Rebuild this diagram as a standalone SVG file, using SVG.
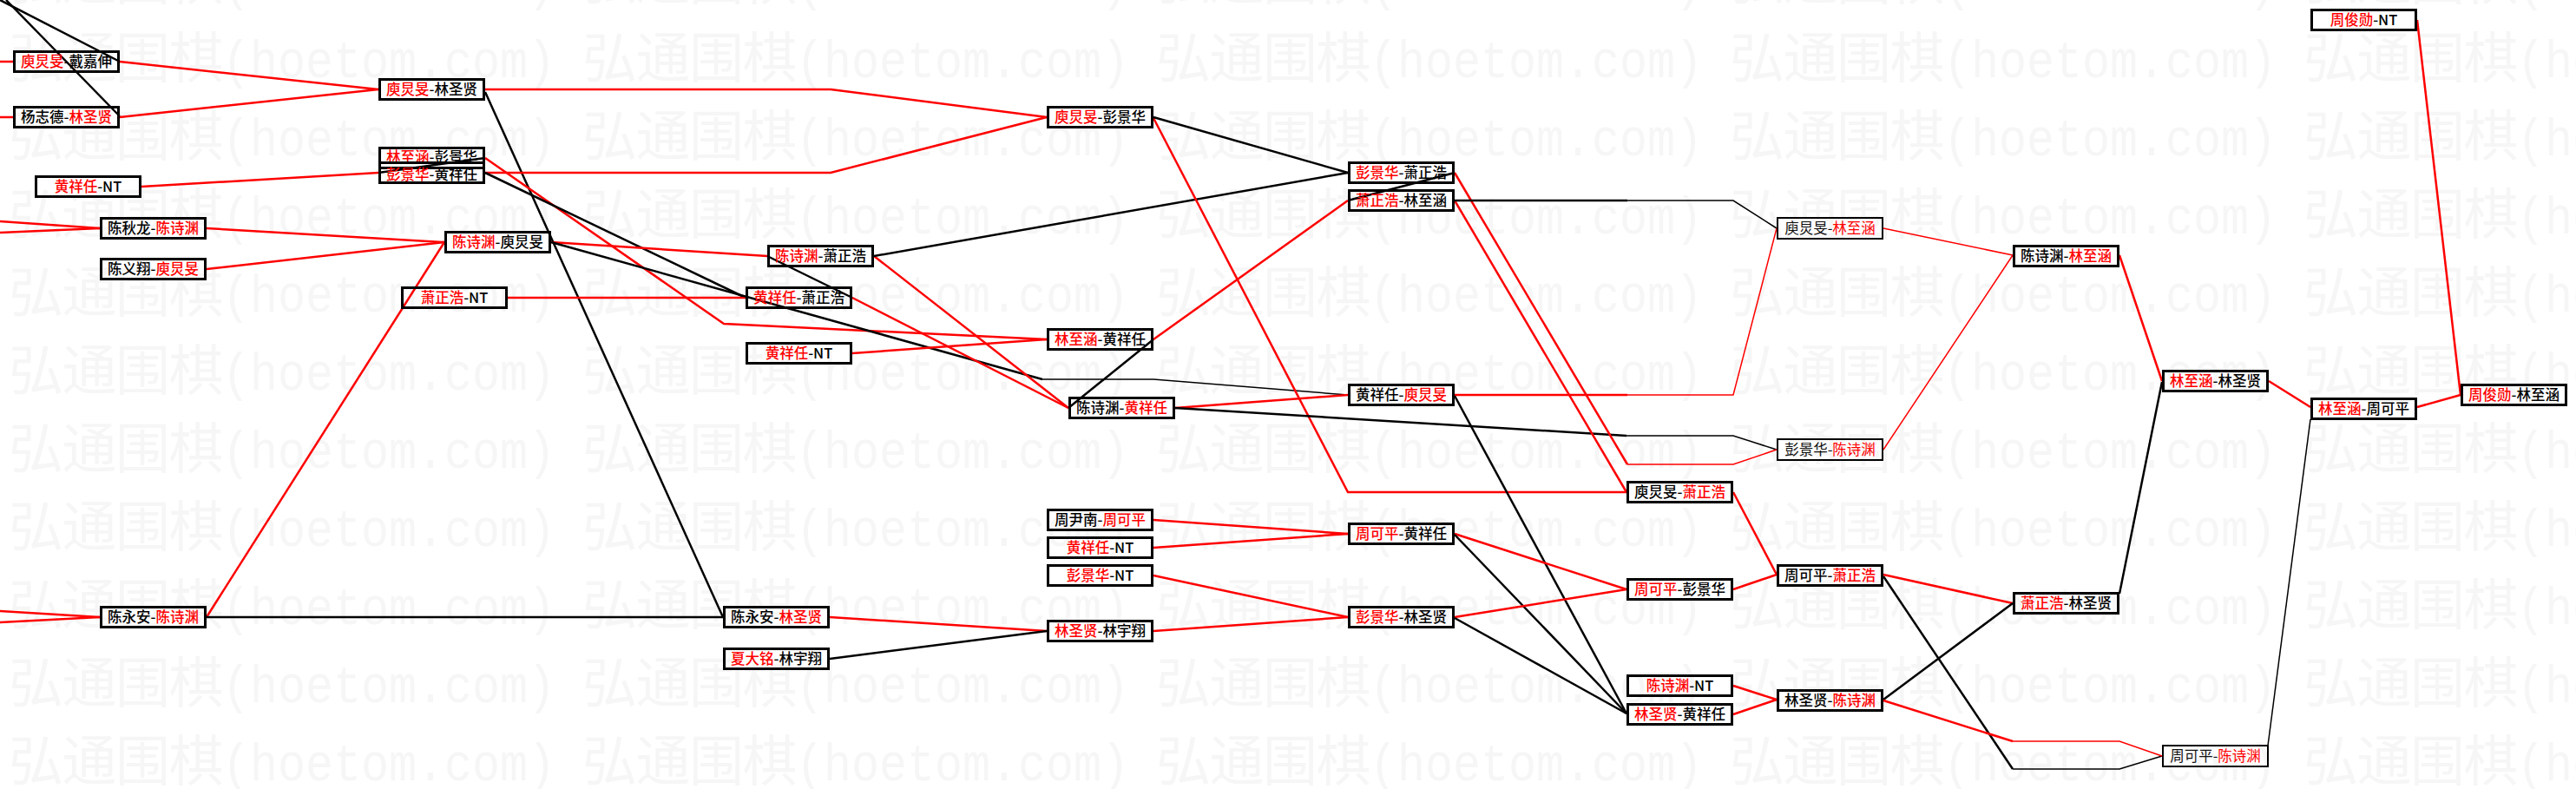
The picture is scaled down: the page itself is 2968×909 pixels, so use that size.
<svg xmlns="http://www.w3.org/2000/svg" width="2968" height="909" viewBox="0 0 2968 909">
<style>
.lr{fill:none;stroke:#f00;stroke-width:2.5}
.lb{fill:none;stroke:#000;stroke-width:2.5}
.th{stroke-width:1.5}
.nb rect{fill:none;stroke:#000;stroke-width:3}
.nt rect{fill:none;stroke:#000;stroke-width:2}
text.tx{font-family:"Noto Sans CJK SC","Noto Sans CJK TC",sans-serif;font-size:16.5px;font-weight:500;fill:#000;text-anchor:middle}
.nt text.tx{font-weight:normal;fill:#111}
.r{fill:#f00}
.wm{fill:#f6f6f6}
</style>
<defs>
<pattern id="wmp" patternUnits="userSpaceOnUse" x="0" y="19" width="661" height="90">
<text class="wm" y="70" font-family="Noto Sans CJK SC,sans-serif" font-size="63"><tspan x="10 71.5 133 194.5">弘通围棋</tspan></text>
<text class="wm" x="256" y="70" font-family="Liberation Mono,monospace" font-size="62" textLength="384" lengthAdjust="spacingAndGlyphs">(hoetom.com)</text>
</pattern>
</defs>
<rect width="2968" height="909" fill="#fff"/>
<rect id="watermark" width="2968" height="909" fill="url(#wmp)"/>
<g id="connectors">
<polyline class="lr" points="0,71 15,71"/>
<polyline class="lr" points="0,135 15,135"/>
<polyline class="lb" points="0,0 138,71"/>
<polyline class="lb" points="7,0 138,134"/>
<polyline class="lr" points="0,255 115,263"/>
<polyline class="lr" points="0,268 115,263"/>
<polyline class="lr" points="0,704 115,711"/>
<polyline class="lr" points="0,717 115,711"/>
<polyline class="lr" points="138,71 436,103"/>
<polyline class="lr" points="138,135 436,103"/>
<polyline class="lr" points="163,215 436,199"/>
<polyline class="lr" points="238,263 512,279"/>
<polyline class="lr" points="238,310 512,279"/>
<polyline class="lr" points="238,711 512,279"/>
<polyline class="lb" points="238,711 833,711"/>
<polyline class="lr" points="559,103 957,103 1206,135"/>
<polyline class="lb" points="559,106 833,711"/>
<polyline class="lr" points="559,182 834,373 1206,391"/>
<polyline class="lb" points="559,182 436,199"/>
<polyline class="lr" points="559,199 957,199 1206,135"/>
<polyline class="lb" points="559,199 859,343"/>
<polyline class="lr" points="585,343 859,343"/>
<polyline class="lr" points="635,279 884,295"/>
<polyline class="lb" points="635,279 1201,437"/>
<polyline class="lb th" points="1201,437 1329,437 1553,455"/>
<polyline class="lr" points="956,711 1206,727"/>
<polyline class="lb" points="956,759 1206,727"/>
<polyline class="lr" points="1007,295 1231,470"/>
<polyline class="lb" points="1007,295 1553,199"/>
<polyline class="lr" points="982,343 1231,470"/>
<polyline class="lb" points="982,343 884,295"/>
<polyline class="lr" points="982,407 1206,391"/>
<polyline class="lr" points="1329,136 1553,567 1874,567"/>
<polyline class="lb" points="1329,135 1553,199"/>
<polyline class="lr" points="1329,391 1553,231"/>
<polyline class="lb" points="1329,391 1231,470"/>
<polyline class="lr" points="1354,470 1553,455"/>
<polyline class="lb" points="1354,470 1874,502"/>
<polyline class="lb th" points="1874,502 1997,502 2047,518"/>
<polyline class="lr" points="1329,599 1553,615"/>
<polyline class="lr" points="1329,631 1553,615"/>
<polyline class="lr" points="1329,663 1553,711"/>
<polyline class="lr" points="1329,727 1553,711"/>
<polyline class="lb" points="1676,199 1553,231"/>
<polyline class="lr" points="1676,199 1875,535"/>
<polyline class="lr th" points="1875,535 1997,535 2047,518"/>
<polyline class="lr" points="1676,231 1874,567"/>
<polyline class="lb" points="1676,231 1875,231"/>
<polyline class="lb th" points="1875,231 1997,231 2047,263"/>
<polyline class="lr" points="1676,455 1875,455"/>
<polyline class="lr th" points="1875,455 1997,455 2047,263"/>
<polyline class="lb" points="1676,456 1874,822"/>
<polyline class="lr" points="1676,615 1874,679"/>
<polyline class="lb" points="1676,616 1874,822"/>
<polyline class="lr" points="1676,711 1874,679"/>
<polyline class="lb" points="1676,712 1874,822"/>
<polyline class="lr" points="1997,567 2047,662"/>
<polyline class="lr" points="1997,679 2047,662"/>
<polyline class="lr" points="1997,790 2047,806"/>
<polyline class="lr" points="1997,823 2047,806"/>
<polyline class="lr th" points="2170,263 2319,294"/>
<polyline class="lr th" points="2170,518 2319,294"/>
<polyline class="lr" points="2170,662 2319,695"/>
<polyline class="lb" points="2170,664 2319,886"/>
<polyline class="lb th" points="2319,886 2442,886 2491,871"/>
<polyline class="lb" points="2170,806 2319,695"/>
<polyline class="lr" points="2170,807 2319,854"/>
<polyline class="lr th" points="2319,854 2442,854 2491,871"/>
<polyline class="lr" points="2442,294 2491,439"/>
<polyline class="lb" points="2442,684 2491,440"/>
<polyline class="lr" points="2614,439 2662,469"/>
<polyline class="lb th" points="2613,859 2662,483"/>
<polyline class="lr" points="2785,469 2835,455"/>
<polyline class="lr" points="2785,23 2835,455"/>
</g>
<g id="n-A" class="nb"><rect x="16.5" y="59.5" width="120" height="23"/><text class="tx" x="76.5" y="77"><tspan class="r">庾炅旻</tspan>-戴嘉伸</text></g>
<g id="n-B" class="nb"><rect x="16.5" y="123.5" width="120" height="23"/><text class="tx" x="76.5" y="141">杨志德-<tspan class="r">林圣贤</tspan></text></g>
<g id="n-F" class="nb"><rect x="41.5" y="203.5" width="120" height="23"/><text class="tx" x="101.5" y="221"><tspan class="r">黄祥任</tspan>-NT</text></g>
<g id="n-G" class="nb"><rect x="116.5" y="251.5" width="120" height="23"/><text class="tx" x="176.5" y="269">陈秋龙-<tspan class="r">陈诗渊</tspan></text></g>
<g id="n-H" class="nb"><rect x="116.5" y="298.5" width="120" height="23"/><text class="tx" x="176.5" y="316">陈义翔-<tspan class="r">庾炅旻</tspan></text></g>
<g id="n-K" class="nb"><rect x="116.5" y="699.5" width="120" height="23"/><text class="tx" x="176.5" y="717">陈永安-<tspan class="r">陈诗渊</tspan></text></g>
<g id="n-C" class="nb"><rect x="437.5" y="91.5" width="120" height="23"/><text class="tx" x="497.5" y="109"><tspan class="r">庾炅旻</tspan>-林圣贤</text></g>
<g id="n-D" class="nb"><rect x="437.5" y="170.5" width="120" height="23"/><text class="tx" x="497.5" y="187"><tspan class="r">林至涵</tspan>-彭景华</text></g>
<g id="n-E" class="nb"><rect x="437.5" y="187.5" width="120" height="23"/><text class="tx" x="497.5" y="207"><tspan class="r">彭景华</tspan>-黄祥任</text></g>
<g id="n-J" class="nb"><rect x="463.5" y="331.5" width="120" height="23"/><text class="tx" x="523.5" y="349"><tspan class="r">萧正浩</tspan>-NT</text></g>
<g id="n-I" class="nb"><rect x="513.5" y="267.5" width="120" height="23"/><text class="tx" x="573.5" y="285"><tspan class="r">陈诗渊</tspan>-庾炅旻</text></g>
<g id="n-L1" class="nb"><rect x="834.5" y="699.5" width="120" height="23"/><text class="tx" x="894.5" y="717">陈永安-<tspan class="r">林圣贤</tspan></text></g>
<g id="n-M" class="nb"><rect x="834.5" y="747.5" width="120" height="23"/><text class="tx" x="894.5" y="765"><tspan class="r">夏大铭</tspan>-林宇翔</text></g>
<g id="n-N" class="nb"><rect x="885.5" y="283.5" width="120" height="23"/><text class="tx" x="945.5" y="301"><tspan class="r">陈诗渊</tspan>-萧正浩</text></g>
<g id="n-O" class="nb"><rect x="860.5" y="331.5" width="120" height="23"/><text class="tx" x="920.5" y="349"><tspan class="r">黄祥任</tspan>-萧正浩</text></g>
<g id="n-P" class="nb"><rect x="860.5" y="395.5" width="120" height="23"/><text class="tx" x="920.5" y="413"><tspan class="r">黄祥任</tspan>-NT</text></g>
<g id="n-Q" class="nb"><rect x="1207.5" y="123.5" width="120" height="23"/><text class="tx" x="1267.5" y="141"><tspan class="r">庾炅旻</tspan>-彭景华</text></g>
<g id="n-R" class="nb"><rect x="1207.5" y="379.5" width="120" height="23"/><text class="tx" x="1267.5" y="397"><tspan class="r">林至涵</tspan>-黄祥任</text></g>
<g id="n-S" class="nb"><rect x="1232.5" y="458.5" width="120" height="23"/><text class="tx" x="1292.5" y="476">陈诗渊-<tspan class="r">黄祥任</tspan></text></g>
<g id="n-T" class="nb"><rect x="1207.5" y="587.5" width="120" height="23"/><text class="tx" x="1267.5" y="605">周尹南-<tspan class="r">周可平</tspan></text></g>
<g id="n-U" class="nb"><rect x="1207.5" y="619.5" width="120" height="23"/><text class="tx" x="1267.5" y="637"><tspan class="r">黄祥任</tspan>-NT</text></g>
<g id="n-V" class="nb"><rect x="1207.5" y="651.5" width="120" height="23"/><text class="tx" x="1267.5" y="669"><tspan class="r">彭景华</tspan>-NT</text></g>
<g id="n-W" class="nb"><rect x="1207.5" y="715.5" width="120" height="23"/><text class="tx" x="1267.5" y="733"><tspan class="r">林圣贤</tspan>-林宇翔</text></g>
<g id="n-X" class="nb"><rect x="1554.5" y="187.5" width="120" height="23"/><text class="tx" x="1614.5" y="205"><tspan class="r">彭景华</tspan>-萧正浩</text></g>
<g id="n-Y" class="nb"><rect x="1554.5" y="219.5" width="120" height="23"/><text class="tx" x="1614.5" y="237"><tspan class="r">萧正浩</tspan>-林至涵</text></g>
<g id="n-Z" class="nb"><rect x="1554.5" y="443.5" width="120" height="23"/><text class="tx" x="1614.5" y="461">黄祥任-<tspan class="r">庾炅旻</tspan></text></g>
<g id="n-AA" class="nb"><rect x="1554.5" y="603.5" width="120" height="23"/><text class="tx" x="1614.5" y="621"><tspan class="r">周可平</tspan>-黄祥任</text></g>
<g id="n-AB" class="nb"><rect x="1554.5" y="699.5" width="120" height="23"/><text class="tx" x="1614.5" y="717"><tspan class="r">彭景华</tspan>-林圣贤</text></g>
<g id="n-AC" class="nb"><rect x="1875.5" y="555.5" width="120" height="23"/><text class="tx" x="1935.5" y="573">庾炅旻-<tspan class="r">萧正浩</tspan></text></g>
<g id="n-AD" class="nb"><rect x="1875.5" y="667.5" width="120" height="23"/><text class="tx" x="1935.5" y="685"><tspan class="r">周可平</tspan>-彭景华</text></g>
<g id="n-AE" class="nb"><rect x="1875.5" y="778.5" width="120" height="23"/><text class="tx" x="1935.5" y="796"><tspan class="r">陈诗渊</tspan>-NT</text></g>
<g id="n-AF" class="nb"><rect x="1875.5" y="811.5" width="120" height="23"/><text class="tx" x="1935.5" y="829"><tspan class="r">林圣贤</tspan>-黄祥任</text></g>
<g id="n-AG" class="nt"><rect x="2048" y="251" width="121" height="24"/><text class="tx" x="2108.5" y="269">庾炅旻-<tspan class="r">林至涵</tspan></text></g>
<g id="n-AH" class="nt"><rect x="2048" y="506" width="121" height="24"/><text class="tx" x="2108.5" y="524">彭景华-<tspan class="r">陈诗渊</tspan></text></g>
<g id="n-AI" class="nb"><rect x="2048.5" y="651.5" width="120" height="23"/><text class="tx" x="2108.5" y="669">周可平-<tspan class="r">萧正浩</tspan></text></g>
<g id="n-AJ" class="nb"><rect x="2048.5" y="795.5" width="120" height="23"/><text class="tx" x="2108.5" y="813">林圣贤-<tspan class="r">陈诗渊</tspan></text></g>
<g id="n-AK" class="nb"><rect x="2320.5" y="283.5" width="120" height="23"/><text class="tx" x="2380.5" y="301">陈诗渊-<tspan class="r">林至涵</tspan></text></g>
<g id="n-AL" class="nb"><rect x="2320.5" y="683.5" width="120" height="23"/><text class="tx" x="2380.5" y="701"><tspan class="r">萧正浩</tspan>-林圣贤</text></g>
<g id="n-AM" class="nb"><rect x="2492.5" y="427.5" width="120" height="23"/><text class="tx" x="2552.5" y="445"><tspan class="r">林至涵</tspan>-林圣贤</text></g>
<g id="n-AN" class="nt"><rect x="2492" y="859" width="121" height="24"/><text class="tx" x="2552.5" y="877">周可平-<tspan class="r">陈诗渊</tspan></text></g>
<g id="n-AO" class="nb"><rect x="2663.5" y="11.5" width="120" height="23"/><text class="tx" x="2723.5" y="29"><tspan class="r">周俊勋</tspan>-NT</text></g>
<g id="n-AP" class="nb"><rect x="2663.5" y="459.5" width="120" height="23"/><text class="tx" x="2723.5" y="477"><tspan class="r">林至涵</tspan>-周可平</text></g>
<g id="n-AQ" class="nb"><rect x="2836.5" y="443.5" width="120" height="23"/><text class="tx" x="2896.5" y="461"><tspan class="r">周俊勋</tspan>-林至涵</text></g>
</svg>
